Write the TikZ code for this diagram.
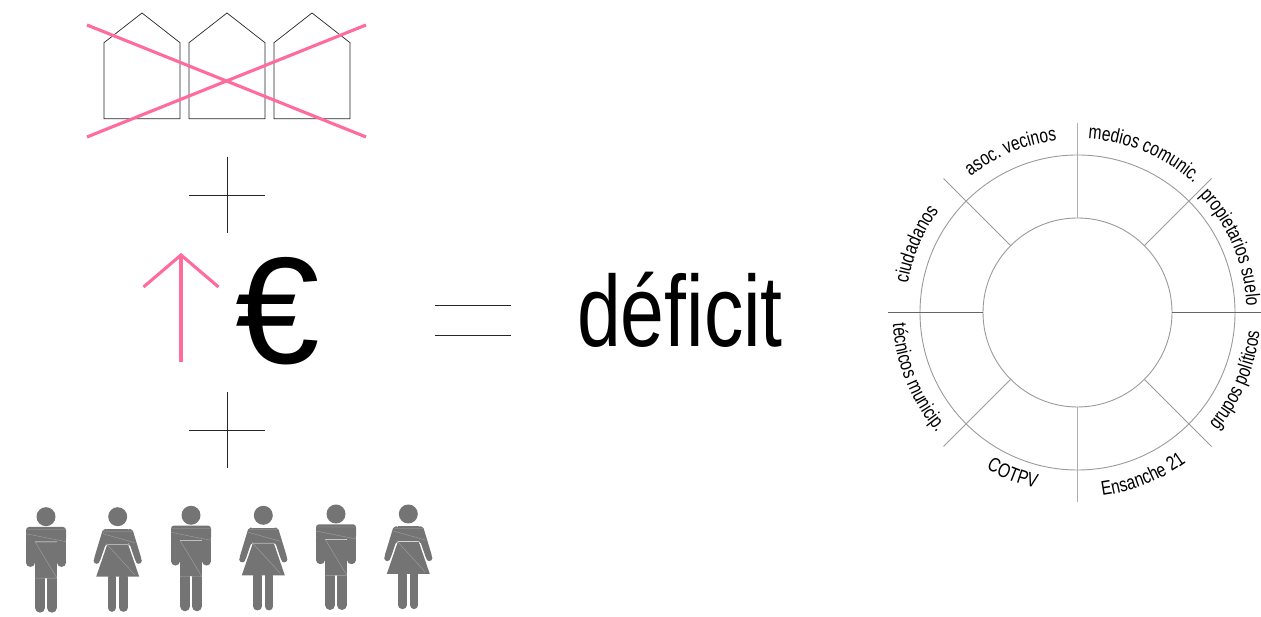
\documentclass[tikz,border=0pt]{standalone}
\usepackage{fontspec}
\setmainfont[FakeStretch=0.78]{Liberation Sans}
\newfontfamily\eurofont{Liberation Sans}
\usetikzlibrary{calc, decorations.text}
\definecolor{crosspink}{HTML}{FF6B9C}
\definecolor{figgray}{HTML}{747474}
\definecolor{ringgray}{HTML}{9A9A9A}
\newcommand{\ringfont}{\fontsize{20}{22}\selectfont}
\newcommand{\ringlabel}[4]{\path[decorate, decoration={text along path, text align=center, text={|\ringfont|#4}}]
    ($(hub)+(#2:#1)$) arc[start angle=#2, end angle=#3, radius=#1];}
\tikzset{
  thinline/.style={black!85, line width=0.7pt},
  pinkline/.style={crosspink, line width=3.1pt},
  hatch/.style={figgray!65!white, line width=0.35pt},
  man/.pic={
    \fill[figgray] (0,0) circle (9.5);
    \fill[figgray, rounded corners=3] (-20,-25) -- (-20,-10.3) -- (20,-10.3) -- (20,-25) -- cycle;
    \fill[figgray] (-10.7,-25.6) rectangle (10.7,-61);
    \foreach \s in {-1,1} {
      \draw[figgray, line width=8.5pt, line cap=round] (\s*15.6,-24) -- (\s*15.6,-46);
      \draw[figgray, line width=10pt, line cap=round] (\s*5.8,-61.8) -- (\s*5.8,-91);
    }
    \draw[hatch] (-20,-17) -- (20,-25) (-10.7,-25.5) -- (10.7,-61) (-20,-13) -- (20,-13) (-10.7,-25.4) -- (10.7,-25.4) (-10.7,-61.4) -- (10.7,-61.4);
  },
  woman/.pic={
    \fill[figgray] (0,0) circle (9.5);
    \foreach \s in {-1,1} {
      \fill[figgray, rounded corners=2] (\s*10,-12.3) -- (\s*14.7,-12.3) -- (\s*24,-43) -- (\s*18,-45) -- (\s*12,-27.4) -- (\s*10,-27.4) -- cycle;
      \fill[figgray] (\s*21,-44) circle (3.1);
      \draw[figgray, line width=8.3pt, line cap=round] (\s*5.8,-60.8) -- (\s*5.8,-91);
    }
    \fill[figgray] (-10.5,-12.3) rectangle (10.5,-27.4);
    \fill[figgray] (-10.5,-28) -- (10.5,-28) -- (21.5,-60) -- (-21.5,-60) -- cycle;
    \draw[hatch] (-15,-17) -- (17,-26) (-10.5,-28) -- (17,-58) (-14.5,-14.5) -- (14.5,-14.5) (-12,-27.7) -- (12,-27.7);
  },
}
\begin{document}
\begin{tikzpicture}[x=1pt, y=1pt]
  \clip (0,0) rectangle (1261,617);
  \foreach \x in {0,1,2}
    \draw[thinline] (104+85*\x,498.3) -- (104+85*\x,574.3) -- (142+85*\x,604) -- (180+85*\x,574.3) -- (180+85*\x,498.3) -- cycle;
  \draw[pinkline] (87,592) -- (366,480);
  \draw[pinkline] (87,480) -- (366,592);
  \foreach \y in {422,187} {
    \draw[thinline] (189,\y) -- (265,\y);
    \draw[thinline] (227,\y+38) -- (227,\y-38);
  }
  \draw[pinkline] (181,255) -- (181,362);
  \draw[pinkline] (143.5,330) -- (181,362) -- (218.5,330);
  \node[anchor=base, inner sep=0pt, font=\eurofont\fontsize{152}{152}\selectfont] (euro) at (277.5,253) {€};
  \draw[thinline] (435,312) -- (510.5,312);
  \draw[thinline] (435,282) -- (510.5,282);
  \node[anchor=base, inner sep=0pt, font=\fontsize{101}{101}\selectfont] (deficit) at (680,270) {déficit};
  \coordinate (hub) at (1077.5,304.5);
  \draw[ringgray, line width=0.9pt] (hub) circle (157.5);
  \draw[ringgray, line width=0.9pt] (hub) circle (94.5);
  \foreach \a in {45,135,225,315}
    \draw[ringgray, line width=0.9pt] ($(hub)+(\a:94.5)$) -- ($(hub)+(\a:189.5)$);
  \foreach \a in {90,270}
    \draw[ringgray!80, line width=1.2pt] ($(hub)+(\a:94.5)$) -- ($(hub)+(\a:189.5)$);
  \foreach \a in {0,180}
    \draw[black!60, line width=0.8pt] ($(hub)+(\a:94.5)$) -- ($(hub)+(\a:189.5)$);
  \ringlabel{174}{87.5}{47}{medios comunic.}
  \ringlabel{173}{129}{96}{asoc. vecinos}
  \ringlabel{172}{171}{143}{ciudadanos}
  \ringlabel{169}{44}{2}{propietarios suelo}
  \ringlabel{183}{-41}{-5}{grupos políticos}
  \ringlabel{185}{182}{222}{técnicos municip.}
  \ringlabel{181}{239.7}{256.6}{COTPV}
  \ringlabel{185}{277.7}{306}{Ensanche 21}
  \foreach \x/\y in {46/100.3, 191/101.7, 336/103}
    \pic at (\x,\y) {man};
  \foreach \x/\y in {117.7/100.3, 263.3/101.7, 408.3/103}
    \pic at (\x,\y) {woman};
\end{tikzpicture}
\end{document}
